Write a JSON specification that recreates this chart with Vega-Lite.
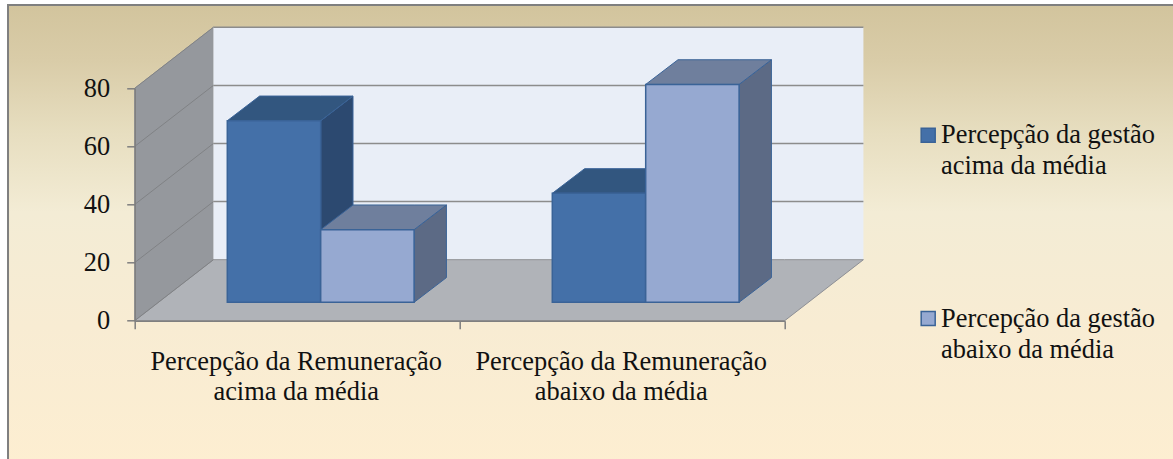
{
"$schema":"https://vega.github.io/schema/vega-lite/v6.json",
"width":650,"height":232.4,
"autosize":{"type":"none"},
"padding":{"left":134.7,"top":88.3,"right":388.3,"bottom":138.3},
"background":"white",
"config":{"view":{"stroke":null},
 "axis":{"grid":false,"tickSize":8,"tickColor":"#7f7f7f","tickWidth":1.5,"domainColor":"#7f7f7f","domainWidth":1.5},
 "axisX":{"labels":false},
 "axisY":{"labelFont":"Liberation Serif","labelFontSize":26.4,"labelColor":"#111111","labelPadding":17}},
"datasets":{
"barras":[
{"remuneracao":"acima da média","gestao":"acima da média","valor":62.5},
{"remuneracao":"acima da média","gestao":"abaixo da média","valor":25},
{"remuneracao":"abaixo da média","gestao":"acima da média","valor":37.5},
{"remuneracao":"abaixo da média","gestao":"abaixo da média","valor":75}
],
"marcas":[{"v":0},{"v":20},{"v":40},{"v":60},{"v":80}],
"rotulosX":[
{"remuneracao":"acima da média","texto":"Percepção da Remuneração","linha":0},
{"remuneracao":"acima da média","texto":"acima da média","linha":1},
{"remuneracao":"abaixo da média","texto":"Percepção da Remuneração","linha":0},
{"remuneracao":"abaixo da média","texto":"abaixo da média","linha":1}
],
"rotulosLegenda":[
{"gestao":"acima da média","texto":"Percepção da gestão","linha":0},
{"gestao":"acima da média","texto":"acima da média","linha":1},
{"gestao":"abaixo da média","texto":"Percepção da gestão","linha":0},
{"gestao":"abaixo da média","texto":"abaixo da média","linha":1}
]
},
"layer":[
{"data":{"values":[{}]},
 "mark":{"type":"rect","stroke":"#7f7f7f","strokeWidth":2,"fill":{"gradient":"linear","x1":0,"y1":0,"x2":0,"y2":1,"stops":[{"offset":0,"color":"#d2c49d"},{"offset":0.12,"color":"#d9cca8"},{"offset":0.28,"color":"#e7dec0"},{"offset":0.45,"color":"#f3ecd5"},{"offset":0.7,"color":"#f8ecd3"},{"offset":1,"color":"#fdeed1"}]}},
 "encoding":{"x":{"datum":-0.3898,"type":"quantitative","title":null,"axis":{"values":[0,1,2],"zindex":1}},"x2":{"datum":3.216},"y":{"datum":108.67,"type":"quantitative","title":null,"axis":{"values":[0,20,40,60,80],"format":"d","zindex":1}},"y2":{"datum":-49.7}}},
{"data":{"values":[{"t":0},{"t":1}]},
 "transform":[{"calculate":"datum.t*0.2422","as":"px"},{"calculate":"datum.t*21","as":"y0"},{"calculate":"80+datum.t*21","as":"y1"}],
 "mark":{"type":"area","fill":"#95989d","stroke":"#9a9c9f","strokeWidth":1},
 "encoding":{
  "x":{"field":"px","type":"quantitative","title":null,"scale":{"domain":[0,2],"nice":false,"zero":false},"axis":{"values":[0,1,2],"zindex":1}},
  "y":{"field":"y0","type":"quantitative","title":null,"scale":{"domain":[0,80],"nice":false,"zero":false},"axis":{"values":[0,20,40,60,80],"format":"d","zindex":1}},
  "y2":{"field":"y1"}}},
{"data":{"values":[{}]},
 "mark":{"type":"rect","fill":"#e9eef7"},
 "encoding":{"x":{"datum":0.2422,"type":"quantitative","title":null},"x2":{"datum":2.2422},"y":{"datum":21,"type":"quantitative","title":null},"y2":{"datum":101}}},
{"data":{"values":[{"t":0},{"t":1},{"t":2},{"t":3}]},
 "transform":[{"calculate":"datum.t==0?0:datum.t==1?0.2422:datum.t==2?2:2.2422","as":"px"},{"calculate":"datum.t==3?21:0","as":"y0"},{"calculate":"datum.t==0?0:21","as":"y1"}],
 "mark":{"type":"area","fill":"#b0b3b8","stroke":"#8e9095","strokeWidth":1},
 "encoding":{"x":{"field":"px","type":"quantitative","title":null},"y":{"field":"y0","type":"quantitative","title":null},"y2":{"field":"y1"}}},
{"data":{"name":"marcas"},
 "transform":[{"filter":"datum.v>0"},{"calculate":"datum.v+21","as":"vb"}],
 "mark":{"type":"rule","color":"#8c8c8c","strokeWidth":1.5},
 "encoding":{"x":{"datum":0.2422,"type":"quantitative","title":null},"x2":{"datum":2.2422},"y":{"field":"vb","type":"quantitative","title":null}}},
{"data":{"name":"marcas"},
 "transform":[{"calculate":"datum.v+21","as":"vb"}],
 "mark":{"type":"rule","color":"#808285","strokeWidth":1},
 "encoding":{"x":{"datum":0,"type":"quantitative","title":null},"x2":{"datum":0.2422},"y":{"field":"v","type":"quantitative","title":null},"y2":{"field":"vb"}}},
{"data":{"name":"barras"},
 "transform":[
  {"calculate":"(datum.remuneracao==='acima da média'?0:1)+0.2849+(datum.gestao==='acima da média'?0:0.2874)+0.2874","as":"xd"},
  {"calculate":"[0,1]","as":"t"},{"flatten":["t"]},
  {"calculate":"datum.xd+datum.t*0.0994","as":"px"},
  {"calculate":"6.33+datum.t*8.5","as":"y0"},
  {"calculate":"6.33+datum.valor+datum.t*8.5","as":"y1"}],
 "mark":{"type":"area","stroke":"#3a6397","strokeWidth":1},
 "encoding":{"x":{"field":"px","type":"quantitative","title":null},"y":{"field":"y0","type":"quantitative","title":null},"y2":{"field":"y1"},
  "detail":[{"field":"remuneracao"},{"field":"gestao"}],
  "color":{"field":"gestao","type":"nominal","legend":null,"scale":{"domain":["acima da média","abaixo da média"],"range":["#2c4970","#5c6a85"]}}}},
{"data":{"name":"barras"},
 "transform":[
  {"calculate":"(datum.remuneracao==='acima da média'?0:1)+0.2849+(datum.gestao==='acima da média'?0:0.2874)","as":"xe"},
  {"calculate":"6.33+datum.valor","as":"topo"},
  {"calculate":"[0,1,2,3]","as":"t"},{"flatten":["t"]},
  {"calculate":"datum.xe+(datum.t==0?0:datum.t==1?0.0994:datum.t==2?0.2874:0.3868)","as":"px"},
  {"calculate":"datum.topo+(datum.t==3?8.5:0)","as":"y0"},
  {"calculate":"datum.topo+(datum.t==0?0:8.5)","as":"y1"}],
 "mark":{"type":"area","stroke":"#3a6397","strokeWidth":1},
 "encoding":{"x":{"field":"px","type":"quantitative","title":null},"y":{"field":"y0","type":"quantitative","title":null},"y2":{"field":"y1"},
  "detail":[{"field":"remuneracao"},{"field":"gestao"}],
  "color":{"field":"gestao","type":"nominal","legend":null,"scale":{"domain":["acima da média","abaixo da média"],"range":["#32567f","#6f7f9d"]}}}},
{"data":{"name":"barras"},
 "transform":[
  {"calculate":"(datum.remuneracao==='acima da média'?0:1)+0.2849+(datum.gestao==='acima da média'?0:0.2874)","as":"xe"},
  {"calculate":"datum.xe+0.2874","as":"xd"},
  {"calculate":"6.33","as":"base"},
  {"calculate":"6.33+datum.valor","as":"topo"}],
 "mark":{"type":"rect","stroke":"#3a6397","strokeWidth":1.5},
 "encoding":{"x":{"field":"xe","type":"quantitative","title":null},"x2":{"field":"xd"},"y":{"field":"topo","type":"quantitative","title":null},"y2":{"field":"base"},
  "color":{"field":"gestao","type":"nominal","legend":null,"scale":{"domain":["acima da média","abaixo da média"],"range":["#4470a8","#96a9d1"]}}}},
{"data":{"name":"rotulosX"},
 "transform":[{"calculate":"(datum.remuneracao==='acima da média'?0.5:1.5)-0.003","as":"px"},{"calculate":"-16.87-datum.linha*10.33","as":"py"}],
 "mark":{"type":"text","font":"Liberation Serif","fontSize":26.4,"align":"center","baseline":"alphabetic","color":"#111111"},
 "encoding":{"x":{"field":"px","type":"quantitative","title":null},"y":{"field":"py","type":"quantitative","title":null},"text":{"field":"texto","type":"nominal"},"detail":{"field":"remuneracao"}}},
{"data":{"name":"barras"},
 "transform":[{"filter":"datum.remuneracao==='acima da média'"},{"calculate":"datum.gestao==='acima da média'?63.85:0.76","as":"py"},{"calculate":"2.4415","as":"px"}],
 "mark":{"type":"point","shape":"square","filled":true,"size":196,"opacity":1,"stroke":"#3a6397","strokeWidth":1.5},
 "encoding":{"x":{"field":"px","type":"quantitative","title":null},"y":{"field":"py","type":"quantitative","title":null},
  "color":{"field":"gestao","type":"nominal","legend":null,"scale":{"domain":["acima da média","abaixo da média"],"range":["#4470a8","#96a9d1"]}}}},
{"data":{"name":"rotulosLegenda"},
 "transform":[{"calculate":"2.481","as":"px"},{"calculate":"(datum.gestao==='acima da média'?61.07:-2.27)-datum.linha*10.6","as":"py"}],
 "mark":{"type":"text","font":"Liberation Serif","fontSize":26.4,"align":"left","baseline":"alphabetic","color":"#111111"},
 "encoding":{"x":{"field":"px","type":"quantitative","title":null},"y":{"field":"py","type":"quantitative","title":null},"text":{"field":"texto","type":"nominal"}}}
],
"resolve":{"scale":{"color":"independent"}}
}
